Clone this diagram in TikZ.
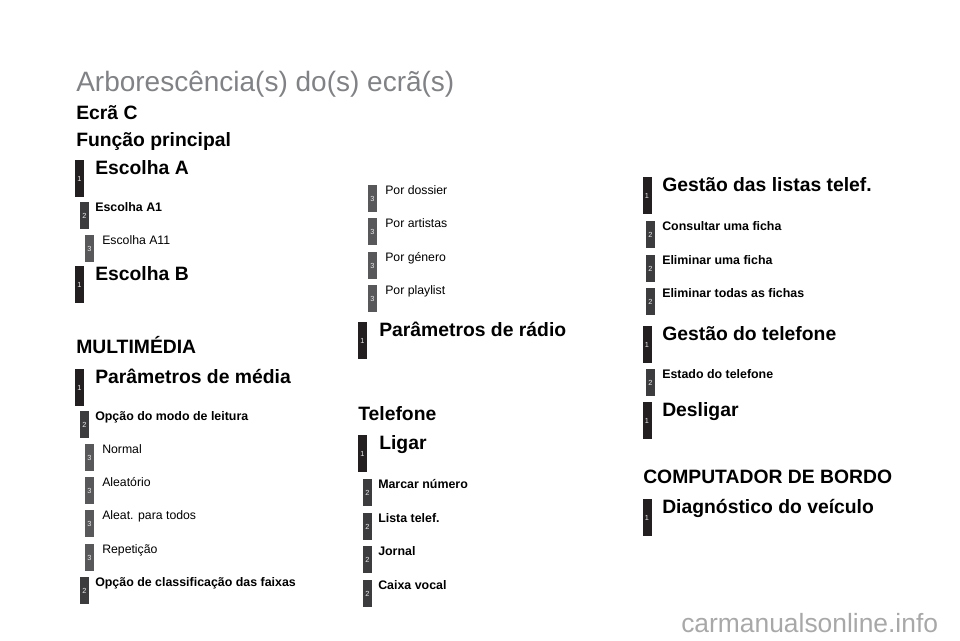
\documentclass[tikz,border=0pt]{standalone}
\usepackage{fontspec}
\setmainfont{Liberation Sans}
\definecolor{lvlone}{HTML}{231F20}
\definecolor{lvltwo}{HTML}{3C3C3E}
\definecolor{lvlthree}{HTML}{58585A}
\definecolor{titlegray}{HTML}{808285}
\definecolor{markgray}{HTML}{A8A8A8}

\begin{document}
\begin{tikzpicture}[x=0.75pt,y=-0.75pt,
    bar/.style={rectangle, inner sep=0pt, text=white!92!black,
      font=\fontsize{5.5}{5.5}\selectfont},
    barone/.style={bar, fill=lvlone, minimum width=6.75pt, minimum height=27.75pt},
    bartwo/.style={bar, fill=lvltwo, minimum width=6.5pt, minimum height=20.25pt},
    barthree/.style={bar, fill=lvlthree, minimum width=6.75pt, minimum height=20.25pt},
    itemone/.style={anchor=base west, inner sep=0pt, font=\fontsize{14.5}{17}\selectfont\bfseries},
    itemtwo/.style={anchor=base west, inner sep=0pt, font=\fontsize{9.3}{11}\selectfont\bfseries},
    itemthree/.style={anchor=base west, inner sep=0pt, font=\fontsize{9.2}{11}\selectfont},
    heading/.style={itemone}]

  \useasboundingbox (0,0) rectangle (960,640);

  % titles
  \node[anchor=base west, inner sep=0pt, text=titlegray, font=\fontsize{21}{24}\selectfont]
    (title) at (76,91) {Arborescência(s) do(s) ecrã(s)};
  \node[heading] (ecra) at (76,119) {Ecrã C};
  \node[heading] (funcao) at (76,146) {Função principal};

  % left column
  \begin{scope}
    \foreach \y/\n/\t in {160/ea/Escolha A, 266/eb/Escolha B, 369/pm/Parâmetros de média} {
      \node[barone] (b\n) at (79.5,\y+18.5) {1};
      \node[itemone] (t\n) at (95,\y+14) {\t};
    }
    \foreach \y/\n/\t in {202/ea1/Escolha A1, 411/ml/Opção do modo de leitura,
                          577/cf/Opção de classificação das faixas} {
      \node[bartwo] (b\n) at (84.5,\y+13.5) {2};
      \node[itemtwo] (t\n) at (95,\y+9.5) {\t};
    }
    \foreach \y/\n/\t in {235/ea11/Escolha A11, 444/nor/Normal, 477/ale/Aleatório,
                          510/apt/Aleat. para todos, 544/rep/Repetição} {
      \node[barthree] (b\n) at (89.5,\y+13.5) {3};
      \node[itemthree] (t\n) at (102,\y+9) {\t};
    }
    \node[heading] (multi) at (76,353) {MULTIMÉDIA};
  \end{scope}

  % middle column
  \begin{scope}
    \foreach \y/\n/\t in {185/pd/Por dossier, 218/pa/Por artistas,
                          252/pg/Por género, 285/pp/Por playlist} {
      \node[barthree] (b\n) at (372.5,\y+13.5) {3};
      \node[itemthree] (t\n) at (385,\y+9) {\t};
    }
    \foreach \y/\n/\t in {322/pr/Parâmetros de rádio, 435/lig/Ligar} {
      \node[barone] (b\n) at (362.5,\y+18.5) {1};
      \node[itemone] (t\n) at (379,\y+14) {\t};
    }
    \foreach \y/\n/\t in {479/mn/Marcar número, 513/lt/Lista telef.,
                          546/jor/Jornal, 580/cv/Caixa vocal} {
      \node[bartwo] (b\n) at (367.5,\y+13.5) {2};
      \node[itemtwo] (t\n) at (378,\y+9.5) {\t};
    }
    \node[heading] (tel) at (358,420) {Telefone};
  \end{scope}

  % right column
  \begin{scope}
    \foreach \y/\n/\t in {177/gl/Gestão das listas telef., 326/gt/Gestão do telefone,
                          402/des/Desligar, 499/dv/Diagnóstico do veículo} {
      \node[barone] (b\n) at (647,\y+18.5) {1};
      \node[itemone] (t\n) at (662,\y+14) {\t};
    }
    \foreach \y/\n/\t in {221/cu/Consultar uma ficha, 255/eu/Eliminar uma ficha,
                          288/et/Eliminar todas as fichas, 369/est/Estado do telefone} {
      \node[bartwo] (b\n) at (650.5,\y+13.5) {2};
      \node[itemtwo] (t\n) at (662,\y+9.5) {\t};
    }
    \node[heading] (comp) at (643,483) {COMPUTADOR DE BORDO};
  \end{scope}

  % watermark
  \node[anchor=base west, inner sep=0pt, text=markgray, font=\fontsize{19.8}{22}\selectfont]
    (mark) at (681,632) {carmanualsonline.info};

\end{tikzpicture}
\end{document}
